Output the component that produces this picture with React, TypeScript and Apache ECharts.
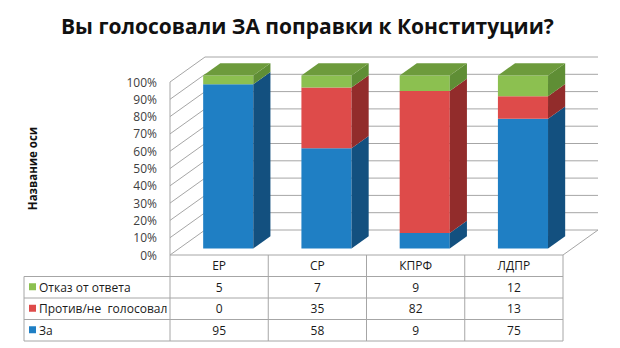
import React, { useEffect, useRef } from "react";
import * as echarts from "echarts";

// ---- data ----
const chartTitle = "Вы голосовали ЗА поправки к Конституции?";
const axisTitle = "Название оси";
const categories = ["ЕР", "СР", "КПРФ", "ЛДПР"];
const seriesNames = ["За", "Против/не  голосовал", "Отказ от ответа"];
const zaValues = [95, 58, 9, 75];
const protivValues = [0, 35, 82, 13];
const otkazValues = [5, 7, 9, 12];
const yTickValues = [0, 10, 20, 30, 40, 50, 60, 70, 80, 90, 100];

// ---- style ----
const FONT = "Open Sans";
const frontColors = ["#1f7fc4", "#de4b4a", "#8cc050"];
const sideColors = ["#13507f", "#922c2b", "#5f8e35"];
const topColors = ["#1a6aa5", "#b73a39", "#6d9b3c"];
const GRID_COLOR = "#a6a6a6";
const DEPTH_X = 35;
const DEPTH_Y = -25;
const BAR_FRONT = 0.26;
const BAR_DEPTH = 0.49;
const BAR_W = 0.51;
const TABLE_LEFT = 24;
const ROW_H = 21.5;

const valueSets = [zaValues, protivValues, otkazValues];

export default function App() {
  const ref = useRef<HTMLDivElement>(null);
  useEffect(() => {
    if (!ref.current) return;
    const chart = echarts.init(ref.current, null, { renderer: "svg" });

    const barSeries = valueSets.map((vals, s) => {
      const data = vals.map((v, i) => {
        let base = 0;
        for (let k = 0; k < s; k++) base += valueSets[k][i];
        let isTop = 1;
        for (let k = s + 1; k < valueSets.length; k++) if (valueSets[k][i] > 0) isTop = 0;
        return [i, base, base + v, isTop];
      });
      return {
        type: "custom",
        name: seriesNames[s],
        clip: false,
        z: 3,
        encode: { x: 0, y: [1, 2] },
        data,
        renderItem: (params: any, api: any) => {
          const i = api.value(0);
          const base = api.value(1);
          const top = api.value(2);
          const isTop = api.value(3);
          if (top - base <= 0) return null;
          const band = api.size([1, 0])[0];
          const w = band * BAR_W;
          const c0 = api.coord([i, base]);
          const c1 = api.coord([i, top]);
          const offX = DEPTH_X * BAR_FRONT;
          const offY = DEPTH_Y * BAR_FRONT;
          const bdx = DEPTH_X * BAR_DEPTH;
          const bdy = DEPTH_Y * BAR_DEPTH;
          const x0 = c0[0] - w / 2 + offX;
          const x1 = x0 + w;
          const yb = c0[1] + offY;
          const yt = c1[1] + offY;
          const children: any[] = [
            {
              type: "rect",
              shape: { x: x0, y: yt, width: w, height: yb - yt },
              style: { fill: frontColors[s] },
            },
            {
              type: "polygon",
              shape: { points: [[x1, yt], [x1 + bdx, yt + bdy], [x1 + bdx, yb + bdy], [x1, yb]] },
              style: { fill: sideColors[s] },
            },
          ];
          if (isTop) {
            children.push({
              type: "polygon",
              shape: { points: [[x0, yt], [x0 + bdx, yt + bdy], [x1 + bdx, yt + bdy], [x1, yt]] },
              style: { fill: topColors[s] },
            });
          }
          return { type: "group", children };
        },
      };
    });

    const frameSeries = {
      type: "custom",
      name: "frame",
      clip: false,
      silent: true,
      z: 1,
      encode: { x: 0, y: 1 },
      data: [[0, 0]],
      renderItem: (params: any, api: any) => {
        const band = api.size([1, 0])[0];
        const n = categories.length;
        const xL = api.coord([0, 0])[0] - band / 2;
        const xR = api.coord([n - 1, 0])[0] + band / 2;
        const y0 = api.coord([0, 0])[1];
        const y100 = api.coord([0, 100])[1];
        const ls = { stroke: GRID_COLOR, lineWidth: 1 };
        const ch: any[] = [];
        const line = (x1: number, y1: number, x2: number, y2: number) =>
          ch.push({ type: "line", shape: { x1, y1, x2, y2 }, style: ls });
        yTickValues.forEach((v) => {
          const y = api.coord([0, v])[1];
          line(xL, y, xL + DEPTH_X, y + DEPTH_Y);
          line(xL + DEPTH_X, y + DEPTH_Y, xR + DEPTH_X, y + DEPTH_Y);
        });
        // left wall front edge and floor
        line(xL, y100, xL, y0);
        line(xR, y0, xR + DEPTH_X, y0 + DEPTH_Y);
        // table
        const rows = [otkazValues, protivValues, zaValues];
        const rowColors = [frontColors[2], frontColors[1], frontColors[0]];
        const rowNames = [seriesNames[2], seriesNames[1], seriesNames[0]];
        const yEnd = y0 + ROW_H * (rows.length + 1);
        line(xL, y0, xR, y0);
        for (let r = 1; r <= rows.length + 1; r++) line(TABLE_LEFT, y0 + ROW_H * r, xR, y0 + ROW_H * r);
        line(TABLE_LEFT, y0 + ROW_H, TABLE_LEFT, yEnd);
        for (let k = 0; k <= n; k++) line(xL + band * k, y0, xL + band * k, yEnd);
        const ts = { fontFamily: FONT, fontSize: 12, fill: "#1a1a1a" };
        categories.forEach((c, k) => {
          ch.push({
            type: "text",
            x: xL + band * (k + 0.5),
            y: y0 + ROW_H / 2,
            style: { ...ts, text: c, align: "center", verticalAlign: "middle" },
          });
        });
        rows.forEach((vals, r) => {
          const yc = y0 + ROW_H * (r + 1.5);
          ch.push({
            type: "rect",
            shape: { x: TABLE_LEFT + 5, y: yc - 4, width: 7, height: 7 },
            style: { fill: rowColors[r] },
          });
          ch.push({
            type: "text",
            x: TABLE_LEFT + 15,
            y: yc,
            style: { ...ts, text: rowNames[r], align: "left", verticalAlign: "middle" },
          });
          vals.forEach((v, k) => {
            ch.push({
              type: "text",
              x: xL + band * (k + 0.5),
              y: yc,
              style: { ...ts, text: String(v), align: "center", verticalAlign: "middle" },
            });
          });
        });
        return { type: "group", children: ch };
      },
    };

    chart.setOption({
      animation: false,
      title: {
        text: chartTitle,
        left: 56,
        top: 10,
        textStyle: { fontFamily: FONT, fontSize: 21, fontWeight: "bold", color: "#111" },
      },
      grid: { left: 170, right: 57, top: 82, bottom: 93 },
      xAxis: {
        type: "category",
        data: categories,
        axisLabel: { show: false },
        axisLine: { show: false },
        axisTick: { show: false },
        splitLine: { show: false },
      },
      yAxis: {
        type: "value",
        min: 0,
        max: 100,
        interval: 10,
        name: axisTitle,
        nameLocation: "middle",
        nameRotate: 90,
        nameGap: 132,
        nameTextStyle: { fontFamily: FONT, fontSize: 11.5, fontWeight: "bold", color: "#111" },
        axisLabel: {
          formatter: "{value}%",
          fontFamily: FONT,
          fontSize: 12,
          color: "#404040",
          margin: 13,
        },
        axisLine: { show: false },
        axisTick: { show: false },
        splitLine: { show: false },
      },
      series: [frameSeries, ...barSeries],
    });
    return () => chart.dispose();
  }, []);
  return <div ref={ref} style={{ width: 620, height: 348, position: "absolute", left: 0, top: 0 }} />;
}
